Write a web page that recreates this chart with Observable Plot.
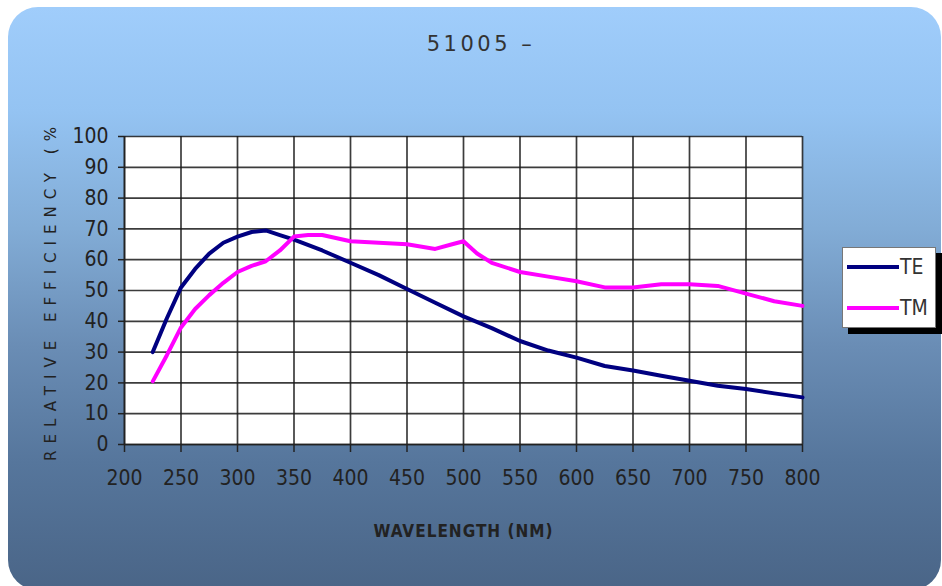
<!DOCTYPE html>
<html>
<head>
<meta charset="utf-8">
<script src="https://cdn.jsdelivr.net/npm/d3@7"></script>
<script src="https://cdn.jsdelivr.net/npm/@observablehq/plot@0.6"></script>
<style>
  html, body { margin: 0; padding: 0; background: #ffffff; }
  #wrap { position: relative; width: 942px; height: 586px; overflow: hidden; background: #fff; }
  #bg { position: absolute; left: 8px; top: 7px; width: 933px; height: 583px; border-radius: 30px;
        background: linear-gradient(to bottom, #a0cdfb 0%, #94c3f2 18%, #82acd6 38%, #6a8db5 58%, #56769c 78%, #4a6587 100%); }
  #title { position: absolute; left: 0; width: 962px; top: 32px; text-align: center;
           font-family: "DejaVu Sans", sans-serif; font-size: 21px; letter-spacing: 3.5px; color: #333; }
  #chart { position: absolute; left: 0; top: 0; }
  #legend { position: absolute; left: 842px; top: 247px; width: 94px; height: 81px; background: #fff;
            border: 1px solid #777; box-shadow: 6px 6px 0 #000; box-sizing: border-box;
            font-family: "DejaVu Sans", sans-serif; font-stretch: condensed; font-size: 21px; color: #333; }
  .lg { position: absolute; left: 4px; height: 24px; display: flex; align-items: center; }
  .lg span.sw { display: inline-block; width: 52px; height: 4px; }
  .lg span.t { margin-left: 1px; }
  svg [aria-label="y-axis tick label"] text, svg [aria-label="x-axis tick label"] text {
    font-family: "DejaVu Sans", sans-serif; font-stretch: condensed; font-size: 21px; fill: #222; }
  svg [aria-label="y-axis label"] text { font-family: "DejaVu Sans", sans-serif; font-size: 15px; letter-spacing: 7px; fill: #222; }
  svg [aria-label="x-axis label"] text { font-family: "DejaVu Sans", sans-serif; font-stretch: condensed; font-weight: bold; font-size: 17px; letter-spacing: 1px; fill: #222; }
</style>
</head>
<body>
<div id="wrap">
  <div id="bg"></div>
  <div id="title">51005 –</div>
  <div id="chart"></div>
  <div id="legend">
    <div class="lg" style="top:7px"><span class="sw" style="background:#000080"></span><span class="t">TE</span></div>
    <div class="lg" style="top:48px"><span class="sw" style="background:#ff00ff"></span><span class="t">TM</span></div>
  </div>
</div>
<script>
const seriesNames = ["TE", "TM"];
const seriesColors = ["#000080", "#ff00ff"];

const teWavelength = [225, 237.5, 250, 262.5, 275, 287.5, 300, 312.5, 325, 337.5, 350, 375, 400, 425, 450, 475, 500, 525, 550, 575, 600, 625, 650, 675, 700, 725, 750, 775, 800];
const teValue      = [30, 41, 51, 57, 62, 65.5, 67.5, 69, 69.5, 68, 66.5, 63, 59, 55, 50.5, 46, 41.6, 37.8, 33.6, 30.5, 28.2, 25.5, 24, 22.3, 20.7, 19.1, 18, 16.6, 15.3];

const tmWavelength = [225, 237.5, 250, 262.5, 275, 287.5, 300, 312.5, 325, 337.5, 350, 362.5, 375, 400, 425, 450, 475, 490, 500, 512, 525, 550, 575, 600, 625, 650, 675, 700, 725, 750, 775, 800];
const tmValue      = [20.5, 29, 38, 44, 48.5, 52.5, 56, 58, 59.5, 63, 67.5, 68, 68, 66, 65.5, 65, 63.5, 65, 66, 62, 59, 56, 54.5, 53, 51, 51, 52, 52, 51.5, 49, 46.5, 45];

const xTicks = [200, 250, 300, 350, 400, 450, 500, 550, 600, 650, 700, 750, 800];
const yTicks = [0, 10, 20, 30, 40, 50, 60, 70, 80, 90, 100];

const te = teWavelength.map((w, i) => ({wl: w, v: teValue[i], s: seriesNames[0]}));
const tm = tmWavelength.map((w, i) => ({wl: w, v: tmValue[i], s: seriesNames[1]}));

const chart = Plot.plot({
  width: 942,
  height: 586,
  marginLeft: 124,
  marginRight: 140,
  marginTop: 136,
  marginBottom: 142,
  style: {background: "transparent", overflow: "visible"},
  x: {domain: [200, 800]},
  y: {domain: [0, 100]},
  marks: [
    Plot.frame({fill: "white", stroke: null}),
    Plot.gridX(xTicks, {stroke: "#1a1a1a", strokeOpacity: 0.85, strokeWidth: 1.7}),
    Plot.gridY(yTicks, {stroke: "#1a1a1a", strokeOpacity: 0.85, strokeWidth: 1.7}),
    Plot.axisX(xTicks, {tickSize: 8, tickPadding: 18, stroke: "#222", strokeWidth: 1.5, label: "WAVELENGTH (NM)", labelAnchor: "center", labelArrow: "none", labelOffset: 92}),
    Plot.axisY(yTicks, {tickSize: 6, tickPadding: 10, stroke: "#222", strokeWidth: 1.5, label: "RELATIVE EFFICIENCY (%", labelAnchor: "center", labelArrow: "none", labelOffset: 79}),
    Plot.ruleX([200], {stroke: "#222", strokeWidth: 1.5}),
    Plot.ruleY([0], {stroke: "#222", strokeWidth: 1.5}),
    Plot.lineY(te, {x: "wl", y: "v", stroke: seriesColors[0], strokeWidth: 4, curve: "linear"}),
    Plot.lineY(tm, {x: "wl", y: "v", stroke: seriesColors[1], strokeWidth: 4, curve: "linear"})
  ]
});
document.getElementById("chart").appendChild(chart);
</script>
</body>
</html>
